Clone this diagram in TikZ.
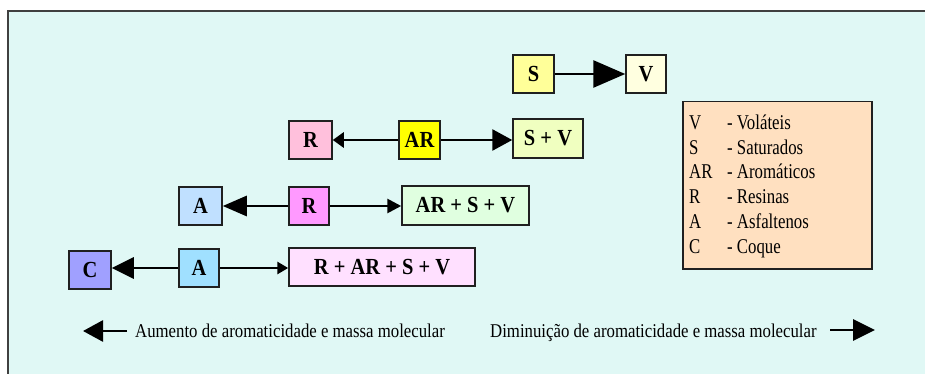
\documentclass[tikz,border=0pt]{standalone}
\usepackage{fontspec}
\setmainfont{Liberation Serif}
\newfontfamily\boxfont[FakeStretch=0.89]{Liberation Serif}
\newfontfamily\legfont[FakeStretch=0.8]{Liberation Serif}
\newfontfamily\botfont[FakeStretch=0.86]{Liberation Serif}
\usetikzlibrary{arrows.meta}
\definecolor{bgc}{RGB}{224,248,245}
\definecolor{framec}{RGB}{64,64,64}
\definecolor{boxline}{RGB}{32,32,32}
\definecolor{cS}{RGB}{255,255,153}
\definecolor{cV}{RGB}{255,255,224}
\definecolor{cRa}{RGB}{255,192,220}
\definecolor{cAR}{RGB}{255,255,0}
\definecolor{cSV}{RGB}{240,255,192}
\definecolor{cAa}{RGB}{192,224,255}
\definecolor{cRb}{RGB}{255,153,255}
\definecolor{cARSV}{RGB}{224,255,224}
\definecolor{cC}{RGB}{160,160,255}
\definecolor{cAb}{RGB}{160,224,255}
\definecolor{cRARSV}{RGB}{255,224,255}
\definecolor{cLeg}{RGB}{255,224,192}
\tikzset{
  box/.style={draw=boxline, line width=1.5pt, minimum height=38pt, inner sep=0pt,
    font=\boxfont\bfseries\fontsize{23}{25}\selectfont},
  conn/.style={line width=2.8pt, draw=black},
  legtext/.style={inner sep=0pt, anchor=base west, font=\legfont\fontsize{21}{23}\selectfont},
  bottext/.style={inner sep=0pt, anchor=base west, font=\botfont\fontsize{19.5}{21}\selectfont},
}
\begin{document}
\begin{tikzpicture}[x=1pt,y=-1pt]
\useasboundingbox (0,0) rectangle (925,374);
\begin{scope}
\clip (0,0) rectangle (925,374);
\draw[draw=framec, line width=2pt, fill=bgc] (8,11) rectangle (940,390);
\end{scope}
% row 1
\node[box, fill=cS, minimum width=41pt] (S) at (533.5,74) {S};
\node[box, fill=cV, minimum width=40pt] (V) at (646,74) {V};
% row 2
\node[box, fill=cRa, minimum width=43pt] (R2) at (310.5,140) {R};
\node[box, fill=cAR, minimum width=41pt] (AR) at (419.5,140) {AR};
\node[box, fill=cSV, minimum width=70pt, minimum height=39pt] (SV) at (548,138.5) {S + V};
% row 3
\node[box, fill=cAa, minimum width=43pt] (A3) at (200.5,206) {A};
\node[box, fill=cRb, minimum width=40pt] (R3) at (309,206) {R};
\node[box, fill=cARSV, minimum width=127pt, minimum height=39pt] (ARSV) at (465.5,205.5) {AR + S + V};
% row 4
\node[box, fill=cC, minimum width=42pt] (C) at (90,270) {C};
\node[box, fill=cAb, minimum width=40pt] (A4) at (199,268) {A};
\node[box, fill=cRARSV, minimum width=186pt] (RARSV) at (382,267) {R + AR + S + V};
% connectors
\draw[conn, -{Triangle[length=32pt,width=27pt]}] (S.east) -- (V.west);
\draw[conn, -{Triangle[length=11pt,width=15pt]}] (AR.west) -- (R2.east);
\draw[conn, -{Triangle[length=20pt,width=21pt]}] (AR.east) -- (SV.west |- AR.east);
\draw[conn, -{Triangle[length=24pt,width=20pt]}] (R3.west) -- (A3.east);
\draw[conn, -{Triangle[length=14pt,width=14pt]}] (R3.east) -- (ARSV.west |- R3.east);
\draw[conn, -{Triangle[length=22pt,width=21pt]}] (A4.west) -- (C.east |- A4.west);
\draw[conn, -{Triangle[length=11pt,width=12pt]}] (A4.east) -- (RARSV.west |- A4.east);
% legend
\node[draw=boxline, line width=1.5pt, fill=cLeg, minimum width=189pt, minimum height=167pt,
      inner sep=0pt, anchor=north west] (leg) at (682,101) {};
\foreach \k/\d [count=\i] in {V/- Voláteis, S/- Saturados, AR/- Aromáticos, R/- Resinas, A/- Asfaltenos, C/- Coque}{
  \node[legtext] (lk\i) at (689,{129.5+24.7*(\i-1)}) {\k};
  \node[legtext] (ld\i) at (727,{129.5+24.7*(\i-1)}) {\d};
}
% bottom
\coordinate (la1) at (127,331);
\coordinate (la2) at (83,331);
\draw[conn, -{Triangle[length=20pt,width=21pt]}] (la1) -- (la2);
\node[bottext] (lt) at (135,337) {Aumento de aromaticidade e massa molecular};
\node[bottext] (rt) at (490,337) {Diminuição de aromaticidade e massa molecular};
\coordinate (ra1) at (830,330);
\coordinate (ra2) at (875,330);
\draw[conn, -{Triangle[length=22pt,width=21pt]}] (ra1) -- (ra2);
\end{tikzpicture}
\end{document}
